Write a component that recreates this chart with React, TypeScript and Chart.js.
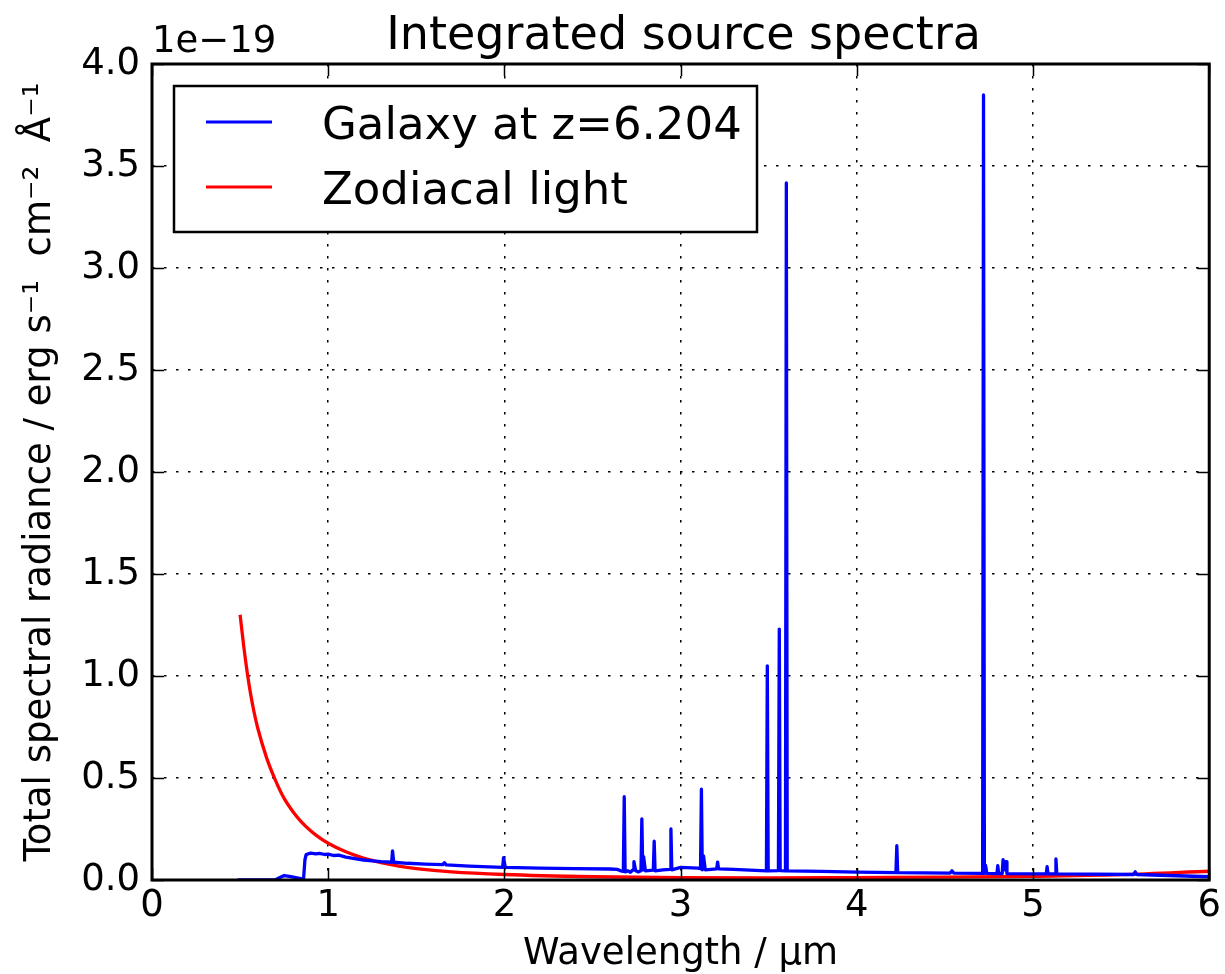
import React, { useEffect, useRef } from "react";
import { Chart, registerables } from "chart.js";

Chart.register(...registerables);

// ---- Data (flux in units of 1e-19 erg s^-1 cm^-2 Å^-1, wavelength in µm) ----
const galaxyWavelength = [
  0.49, 0.7, 0.72, 0.75, 0.78, 0.86, 0.868, 0.875, 0.9, 0.93, 0.95, 0.98, 1.0, 1.03, 1.06, 1.1,
  1.15, 1.2, 1.25, 1.3, 1.36, 1.365, 1.372, 1.45, 1.55, 1.65, 1.66, 1.67, 1.8, 1.99, 1.995, 2.005,
  2.2, 2.4, 2.6, 2.64, 2.66, 2.675, 2.68, 2.685, 2.7, 2.715, 2.73, 2.735, 2.745, 2.76, 2.775, 2.78,
  2.785, 2.79, 2.8, 2.845, 2.85, 2.855, 2.9, 2.94, 2.945, 2.95, 3.0, 3.1, 3.113, 3.118, 3.123,
  3.13, 3.14, 3.205, 3.21, 3.215, 3.3, 3.487, 3.492, 3.497, 3.555, 3.56, 3.565, 3.595, 3.6, 3.605,
  3.8, 4.0, 4.222, 4.227, 4.232, 4.53, 4.54, 4.55, 4.714, 4.719, 4.724, 4.73, 4.738, 4.795, 4.8,
  4.805, 4.825, 4.83, 4.84, 4.847, 4.852, 5.075, 5.08, 5.085, 5.125, 5.13, 5.135, 5.57, 5.58, 5.59,
  6.0,
];
const galaxyFlux = [
  0.0, 0.0, 0.01, 0.022, 0.018, 0.004, 0.1, 0.125, 0.132, 0.128, 0.131, 0.125, 0.127, 0.12, 0.122,
  0.112, 0.105, 0.098, 0.094, 0.09, 0.087, 0.143, 0.087, 0.082, 0.078, 0.075, 0.085, 0.074, 0.068,
  0.062, 0.11, 0.062, 0.058, 0.056, 0.054, 0.052, 0.045, 0.042, 0.408, 0.04, 0.045, 0.038, 0.05,
  0.09, 0.045, 0.04, 0.045, 0.3, 0.05, 0.114, 0.045, 0.048, 0.19, 0.045, 0.05, 0.052, 0.25, 0.05,
  0.062, 0.058, 0.055, 0.445, 0.05, 0.118, 0.05, 0.055, 0.088, 0.055, 0.052, 0.045, 1.05, 0.045,
  0.046, 1.23, 0.046, 0.045, 3.417, 0.045, 0.042, 0.039, 0.036, 0.168, 0.036, 0.034, 0.045, 0.034,
  0.032, 3.848, 0.032, 0.073, 0.032, 0.031, 0.07, 0.031, 0.031, 0.1, 0.05, 0.09, 0.031, 0.03, 0.065,
  0.03, 0.03, 0.103, 0.03, 0.027, 0.04, 0.027, 0.016,
];

const zodiWavelength = [
  0.5, 0.52, 0.54, 0.56, 0.58, 0.6, 0.65, 0.7, 0.75, 0.8, 0.85, 0.9, 0.95, 1.0, 1.1, 1.2, 1.3, 1.4,
  1.5, 1.7, 2.0, 2.5, 3.0, 3.5, 4.0, 4.5, 5.0, 5.5, 6.0,
];
const zodiFlux = [
  1.3, 1.15, 1.02, 0.91, 0.82, 0.745, 0.6, 0.49, 0.4, 0.335, 0.283, 0.242, 0.208, 0.18, 0.138, 0.107,
  0.085, 0.068, 0.056, 0.04, 0.027, 0.016, 0.011, 0.01, 0.012, 0.014, 0.018, 0.026, 0.043,
];

const seriesLabels = ["Galaxy at z=6.204", "Zodiacal light"];
const seriesColors = ["#0000ff", "#ff0000"];

const xTickValues = [0, 1, 2, 3, 4, 5, 6];
const yTickValues = [0, 0.5, 1.0, 1.5, 2.0, 2.5, 3.0, 3.5, 4.0];

const titleText = "Integrated source spectra";
const offsetText = "1e\u221219";
const xAxisTitle = "Wavelength / \u03bcm";
const yAxisTitle = "Total spectral radiance / erg s\u207b\u00b9  cm\u207b\u00b2  \u00c5\u207b\u00b9";

const FONT = "'DejaVu Sans', sans-serif";

const decorPlugin = {
  id: "decor",
  afterDraw(chart: any) {
    const { ctx, chartArea } = chart;
    const { left, right, top, bottom } = chartArea;
    const xs = chart.scales.x;
    const ys = chart.scales.y;
    ctx.save();

    // inner ticks
    ctx.strokeStyle = "#000";
    ctx.lineWidth = 1.5;
    const tl = 12;
    ctx.beginPath();
    xTickValues.forEach((v) => {
      const px = Math.round(xs.getPixelForValue(v)) + 0.5;
      ctx.moveTo(px, bottom);
      ctx.lineTo(px, bottom - tl);
      ctx.moveTo(px, top);
      ctx.lineTo(px, top + tl);
    });
    yTickValues.forEach((v) => {
      const py = Math.round(ys.getPixelForValue(v)) + 0.5;
      ctx.moveTo(left, py);
      ctx.lineTo(left + tl, py);
      ctx.moveTo(right, py);
      ctx.lineTo(right - tl, py);
    });
    ctx.stroke();

    // frame
    ctx.lineWidth = 3;
    ctx.strokeRect(left, top, right - left, bottom - top);

    // title
    ctx.fillStyle = "#000";
    ctx.font = `46px ${FONT}`;
    ctx.textAlign = "center";
    ctx.textBaseline = "alphabetic";
    ctx.fillText(titleText, (left + right) / 2 + 3, 49);

    // offset text
    ctx.font = `37px ${FONT}`;
    ctx.textAlign = "left";
    ctx.fillText(offsetText, left, 52);

    // legend
    const bx = 174, by = 86, bw = 583, bh = 146;
    ctx.fillStyle = "#fff";
    ctx.fillRect(bx, by, bw, bh);
    ctx.lineWidth = 2.5;
    ctx.strokeStyle = "#000";
    ctx.strokeRect(bx, by, bw, bh);
    const rowY = [122, 187];
    ctx.font = `45px ${FONT}`;
    chart.data.datasets.forEach((ds: any, i: number) => {
      ctx.strokeStyle = ds.borderColor;
      ctx.lineWidth = 3;
      ctx.beginPath();
      ctx.moveTo(206, rowY[i]);
      ctx.lineTo(272, rowY[i]);
      ctx.stroke();
      ctx.fillStyle = "#000";
      ctx.textAlign = "left";
      ctx.textBaseline = "alphabetic";
      ctx.fillText(ds.label, 322, rowY[i] + 16.5);
    });

    ctx.restore();
  },
};

export default function App() {
  const canvasRef = useRef<HTMLCanvasElement | null>(null);

  useEffect(() => {
    const canvas = canvasRef.current;
    if (!canvas) return;
    Chart.defaults.font.family = FONT;
    const galaxyData = galaxyWavelength.map((x, i) => ({ x, y: galaxyFlux[i] }));
    const zodiData = zodiWavelength.map((x, i) => ({ x, y: zodiFlux[i] }));

    const chart = new Chart(canvas, {
      type: "line",
      data: {
        datasets: [
          {
            label: seriesLabels[0],
            data: galaxyData,
            borderColor: seriesColors[0],
            backgroundColor: seriesColors[0],
            borderWidth: 3.3,
            pointRadius: 0,
            tension: 0,
            borderJoinStyle: "round",
            borderCapStyle: "round",
          },
          {
            label: seriesLabels[1],
            data: zodiData,
            borderColor: seriesColors[1],
            backgroundColor: seriesColors[1],
            borderWidth: 3.3,
            pointRadius: 0,
            cubicInterpolationMode: "monotone",
            borderJoinStyle: "round",
          },
        ],
      },
      options: {
        animation: false,
        responsive: true,
        maintainAspectRatio: false,
        events: [],
        layout: { padding: { top: 64, right: 15, left: 0, bottom: 0 } },
        plugins: {
          legend: { display: false },
          title: { display: false },
          tooltip: { enabled: false },
        },
        scales: {
          x: {
            type: "linear",
            min: 0,
            max: 6,
            afterFit: (s: any) => {
              s.height = 94;
            },
            afterBuildTicks: (s: any) => {
              s.ticks = xTickValues.map((v) => ({ value: v }));
            },
            ticks: {
              color: "#000",
              font: { size: 37, family: FONT },
              padding: 4,
              maxRotation: 0,
              autoSkip: false,
              callback: (v: any) => String(v),
            },
            grid: { color: "#000", lineWidth: 1.5, drawTicks: false },
            border: { display: false, dash: [2.5, 9.5] },
            title: {
              display: true,
              text: xAxisTitle,
              color: "#000",
              font: { size: 37, family: FONT },
              padding: { top: 0, bottom: -3 },
            },
          },
          y: {
            type: "linear",
            min: 0,
            max: 4,
            afterFit: (s: any) => {
              s.width = 152;
            },
            afterBuildTicks: (s: any) => {
              s.ticks = yTickValues.map((v) => ({ value: v }));
            },
            ticks: {
              color: "#000",
              font: { size: 37, family: FONT },
              padding: 12,
              autoSkip: false,
              callback: (v: any) => Number(v).toFixed(1),
            },
            grid: { color: "#000", lineWidth: 1.5, drawTicks: false },
            border: { display: false, dash: [2.5, 9.5] },
            title: {
              display: true,
              text: yAxisTitle,
              color: "#000",
              font: { size: 37, family: FONT },
              padding: { top: 18, bottom: 0 },
            },
          },
        },
      },
      plugins: [decorPlugin],
    } as any);

    return () => chart.destroy();
  }, []);

  return (
    <div style={{ position: "absolute", left: 0, top: 0, width: 1225, height: 974 }}>
      <canvas ref={canvasRef} />
    </div>
  );
}
